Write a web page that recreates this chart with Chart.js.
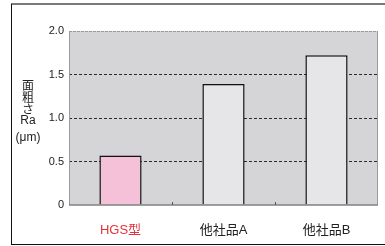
<!DOCTYPE html>
<html><head><meta charset="utf-8">
<script src="https://cdn.jsdelivr.net/npm/chart.js@4/dist/chart.umd.min.js"></script>
<style>
html,body{margin:0;padding:0;background:#fff;width:385px;height:246px;overflow:hidden;font-family:"Liberation Sans",Arial,sans-serif;}
#wrap{position:absolute;left:0;top:0;width:385px;height:246px;}
#frameTop{position:absolute;left:11px;top:3px;width:374px;height:2px;background:#7a7a7a;}
#frameLeft{position:absolute;left:11px;top:4px;width:1px;height:241px;background:#111;}
#frameBottom{position:absolute;left:11px;top:244px;width:374px;height:1px;background:#111;}
#ytitle{position:absolute;left:10px;top:79px;width:36px;text-align:center;color:#222;}
#ytitle .cj{font-family:"Noto Sans CJK JP",sans-serif;font-size:12px;line-height:12px;height:12px;}
#ytitle .ra{font-size:12px;line-height:12px;margin-top:-1px;}
#ytitle .um{font-size:12px;line-height:12px;margin-top:5px;}
canvas{position:absolute;left:0;top:0;}
</style></head>
<body>
<div id="wrap">
<canvas id="c" width="385" height="246"></canvas>
<div id="frameTop"></div><div id="frameLeft"></div><div id="frameBottom"></div>
<div id="ytitle"><div class="cj">面</div><div class="cj">粗</div><div class="cj">さ</div><div class="ra">Ra</div><div class="um">(μm)</div></div>
</div>
<script>
const categories = ["HGS型", "他社品A", "他社品B"];
const roughnessRa = [0.57, 1.39, 1.72];
const yTicks = [0, 0.5, 1.0, 1.5, 2.0];
const barColors = ["#f5c1d8", "#e6e6e8", "#e6e6e8"];
const labelColors = ["#e5323c", "#222222", "#222222"];

const bgPlugin = {
  id: 'bg',
  beforeDraw(chart) {
    const {ctx, chartArea: a} = chart;
    ctx.save();
    ctx.fillStyle = '#d5d5d7';
    ctx.fillRect(a.left, a.top, a.right - a.left, a.bottom - a.top);
    ctx.restore();
  },
  afterDatasetsDraw(chart) {
    const {ctx, chartArea: a, scales} = chart;
    ctx.save();
    ctx.strokeStyle = '#9a9a9a';
    ctx.lineWidth = 1;
    ctx.beginPath();
    ctx.moveTo(a.left + 0.5, a.top); ctx.lineTo(a.left + 0.5, a.bottom);
    ctx.moveTo(a.right - 0.5, a.top); ctx.lineTo(a.right - 0.5, a.bottom);
    ctx.stroke();
    ctx.setLineDash([3, 1]);
    ctx.beginPath();
    ctx.moveTo(a.left, a.top + 0.5); ctx.lineTo(a.right, a.top + 0.5);
    ctx.stroke();
    ctx.setLineDash([]);
    ctx.strokeStyle = '#808080';
    ctx.lineWidth = 1.5;
    ctx.beginPath();
    ctx.moveTo(a.left, a.bottom); ctx.lineTo(a.right, a.bottom);
    ctx.stroke();
    const x = scales.x;
    ctx.strokeStyle = '#555';
    ctx.lineWidth = 1;
    ctx.beginPath();
    for (let i = 1; i < categories.length; i++) {
      const px = Math.round((x.getPixelForValue(i - 1) + x.getPixelForValue(i)) / 2) + 0.5;
      ctx.moveTo(px, a.bottom); ctx.lineTo(px, a.bottom - 3);
    }
    ctx.stroke();
    ctx.restore();
  }
};

new Chart(document.getElementById('c'), {
  type: 'bar',
  data: {
    labels: categories,
    datasets: [{
      data: roughnessRa,
      backgroundColor: barColors,
      borderColor: '#111',
      borderWidth: 1.5,
      borderSkipped: 'bottom',
      barPercentage: 0.41,
      categoryPercentage: 1.0
    }]
  },
  options: {
    responsive: false,
    animation: false,
    devicePixelRatio: 1,
    layout: { padding: { left: 0, right: 7, top: 31, bottom: 0 } },
    plugins: { legend: { display: false }, tooltip: { enabled: false } },
    scales: {
      x: {
        grid: { display: false },
        border: { display: false },
        ticks: {
          padding: 10,
          font: { family: '"Liberation Sans", "Noto Sans CJK JP", sans-serif', size: 13 },
          color: (c) => labelColors[c.index]
        },
        afterFit(s) { s.height = 41; }
      },
      y: {
        min: 0, max: 2.0,
        afterBuildTicks(s) { s.ticks = yTicks.map(v => ({ value: v })); },
        grid: {
          drawTicks: false,
          color: (c) => (c.tick.value > 0 && c.tick.value < 2) ? '#2a2a2a' : 'rgba(0,0,0,0)',
          lineWidth: 1
        },
        border: { display: false, dash: [3, 2] },
        ticks: {
          padding: 5,
          font: { family: '"Liberation Sans", sans-serif', size: 11 },
          color: '#222',
          callback: (v) => v === 0 ? '0' : Number(v).toFixed(1)
        },
        afterFit(s) { s.width = 69; }
      }
    }
  },
  plugins: [bgPlugin]
});
</script>
</body></html>
